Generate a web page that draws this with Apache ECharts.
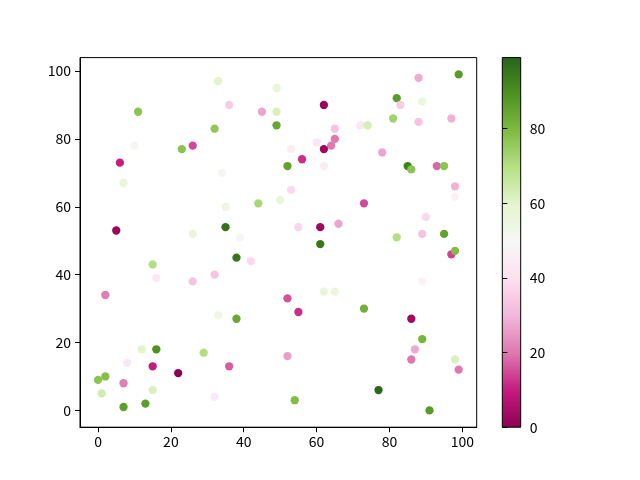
<!DOCTYPE html>
<html>
<head>
<meta charset="utf-8">
<script src="https://cdn.jsdelivr.net/npm/echarts@6/dist/echarts.min.js"></script>
<style>html,body{margin:0;padding:0;background:#fff}#c{width:640px;height:480px}</style>
</head>
<body>
<div id="c"></div>
<script>
const xs = [33,49,36,11,45,49,49,32,10,23,26,6,7,34,35,44,50,5,26,35,39,
  88,99,62,82,83,89,81,88,97,65,72,74,64,65,60,62,53,56,52,62,78,85,86,93,95,98,98,53,73,90,55,61,66,82,89,95,61,
  38,42,15,16,26,32,2,33,38,12,16,29,8,15,36,22,0,2,7,1,15,32,7,13,
  97,98,89,62,65,52,55,73,86,89,87,86,52,98,99,77,54,91];
const ys = [97,95,90,88,88,88,84,83,78,77,78,73,67,70,60,61,62,53,52,54,51,
  98,99,90,92,90,91,86,85,86,83,84,84,78,80,79,77,77,74,72,72,76,72,71,72,72,66,63,65,61,57,54,54,55,51,52,52,49,
  45,44,43,39,38,40,34,28,27,18,18,17,14,13,13,11,9,10,8,5,6,4,1,2,
  46,47,38,35,35,33,29,30,27,21,18,15,16,15,12,6,3,0];
const cs = [60,57,35,77,27,62,84,76,51,77,15,10,57,51,55,72,58,2,57,96,50,
  28,87,2,87,35,56,73,33,29,33,42,63,20,20,42,3,45,12,85,45,27,93,77,18,77,29,47,38,15,38,37,3,27,70,33,85,95,
  95,38,70,43,33,33,21,54,84,60,89,70,43,10,17,0,77,78,21,64,62,44,86,86,
  14,79,47,58,56,16,12,82,3,81,28,20,26,62,20,98,79,87];
const xTicks = [0,20,40,60,80,100];
const yTicks = [0,20,40,60,80,100];
const cbTicks = [0,20,40,60,80];
const cMin = 0, cMax = 99;
const piyg = ['#8e0152','#c51b7d','#de77ae','#f1b6da','#fde0ef','#f7f7f7','#e6f5d0','#b8e186','#7fbc41','#4d9221','#276419'];

const points = xs.map((x,i)=>[x, ys[i], cs[i]]);
const font = '"Noto Sans CJK SC", "Noto Sans", sans-serif';
const lab = {color:'#000', fontSize:14, fontFamily:font};
const chart = echarts.init(document.getElementById('c'));
chart.setOption({
  animation:false,
  backgroundColor:'#fff',
  grid:[
    {left:80, top:57.6, width:396.7, height:369.6, show:true, borderColor:'#000', borderWidth:1, backgroundColor:'transparent'},
    {left:502.3, top:57.6, width:18.4, height:369.6, show:true, borderColor:'#000', borderWidth:1,
     backgroundColor:{type:'linear', x:0, y:1, x2:0, y2:0, global:false,
       colorStops: piyg.map((c,i)=>({offset:i/(piyg.length-1), color:c}))}}
  ],
  xAxis:[
    {gridIndex:0, type:'value', min:-4.95, max:103.95, splitLine:{show:false},
     axisLine:{show:true, onZero:false, lineStyle:{color:'#000', width:1}},
     axisTick:{show:true, length:5, customValues:xTicks, lineStyle:{color:'#000'}},
     axisLabel:Object.assign({customValues:xTicks, margin:7}, lab)},
    {gridIndex:1, type:'value', min:0, max:1, show:false}
  ],
  yAxis:[
    {gridIndex:0, type:'value', min:-4.95, max:103.95, splitLine:{show:false},
     axisLine:{show:true, onZero:false, lineStyle:{color:'#000', width:1}},
     axisTick:{show:true, length:5, customValues:yTicks, lineStyle:{color:'#000'}},
     axisLabel:Object.assign({customValues:yTicks, margin:9}, lab)},
    {gridIndex:1, type:'value', position:'right', min:cMin, max:cMax, splitLine:{show:false},
     axisLine:{show:false},
     axisTick:{show:true, length:5, customValues:cbTicks, lineStyle:{color:'#000'}},
     axisLabel:Object.assign({customValues:cbTicks, margin:9}, lab)}
  ],
  visualMap:{type:'continuous', show:false, min:cMin, max:cMax, dimension:2, seriesIndex:0,
    inRange:{color:piyg}},
  series:[
    {type:'scatter', xAxisIndex:0, yAxisIndex:0, data:points, symbolSize:8.3,
     itemStyle:{opacity:1}, emphasis:{disabled:true}}
  ]
});
</script>
</body>
</html>
